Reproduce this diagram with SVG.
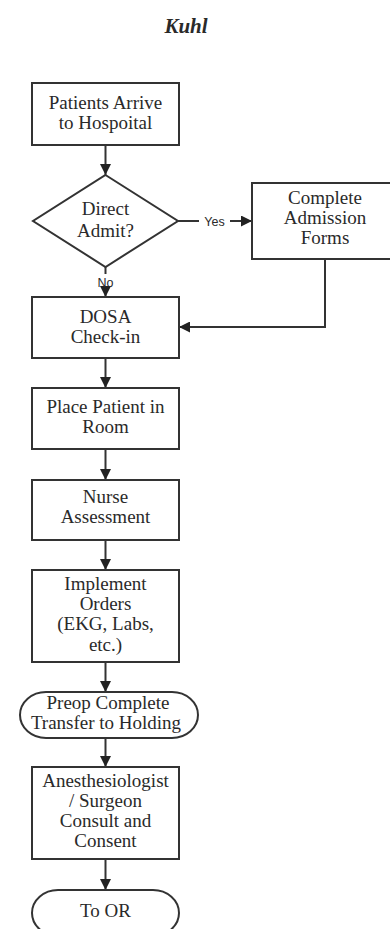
<svg xmlns="http://www.w3.org/2000/svg" width="390" height="929" viewBox="0 0 390 929">
<style>
.n{fill:#fff;stroke:#333;stroke-width:2}
.t{font-family:"Liberation Serif","Times New Roman",serif;font-size:19px;fill:#2a2a2a;text-anchor:middle}
.l{font-family:"Liberation Sans",Arial,sans-serif;font-size:12.5px;fill:#2a2a2a;text-anchor:middle}
.c{fill:none;stroke:#333;stroke-width:2}
</style>
<defs>
<marker id="ah" viewBox="0 0 10 10" refX="10" refY="5" markerWidth="5.5" markerHeight="5.5" orient="auto" markerUnits="strokeWidth">
<path d="M0,0 L10,5 L0,10 z" fill="#222"/>
</marker>
</defs>
<rect width="390" height="929" fill="#fff"/>
<text x="186" y="33" style="font-family:'Liberation Serif','Times New Roman',serif;font-size:21px;font-style:italic;font-weight:bold;fill:#2a2a2a" text-anchor="middle">Kuhl</text>
<g id="connectors">
<line class="c" x1="105.5" y1="145" x2="105.5" y2="175" marker-end="url(#ah)"/>
<line class="c" x1="105.5" y1="267" x2="105.5" y2="274"/>
<line class="c" x1="105.5" y1="290" x2="105.5" y2="297" marker-end="url(#ah)"/>
<line class="c" x1="178" y1="221" x2="199" y2="221"/>
<line class="c" x1="230" y1="221" x2="252" y2="221" marker-end="url(#ah)"/>
<polyline class="c" points="325,259 325,327 179,327" marker-end="url(#ah)"/>
<line class="c" x1="105.5" y1="358" x2="105.5" y2="388" marker-end="url(#ah)"/>
<line class="c" x1="105.5" y1="449" x2="105.5" y2="480" marker-end="url(#ah)"/>
<line class="c" x1="105.5" y1="540" x2="105.5" y2="570" marker-end="url(#ah)"/>
<line class="c" x1="105.5" y1="662" x2="105.5" y2="692" marker-end="url(#ah)"/>
<line class="c" x1="105.5" y1="738" x2="105.5" y2="767" marker-end="url(#ah)"/>
<line class="c" x1="105.5" y1="859" x2="105.5" y2="890" marker-end="url(#ah)"/>
<text class="l" x="214.5" y="225.5">Yes</text>
<text class="l" x="105.5" y="287">No</text>
</g>
<g id="arrive">
<rect class="n" x="32" y="83" width="147" height="62"/>
<text class="t" x="105.5" y="109">Patients Arrive</text>
<text class="t" x="105.5" y="129">to Hospoital</text>
</g>
<g id="direct">
<polygon class="n" points="105.5,175 178,221 105.5,267 33,221"/>
<text class="t" x="105.5" y="215">Direct</text>
<text class="t" x="105.5" y="237">Admit?</text>
</g>
<g id="forms">
<rect class="n" x="252" y="183" width="146" height="76"/>
<text class="t" x="325" y="204">Complete</text>
<text class="t" x="325" y="224">Admission</text>
<text class="t" x="325" y="244">Forms</text>
</g>
<g id="dosa">
<rect class="n" x="32" y="297" width="147" height="61"/>
<text class="t" x="105.5" y="323">DOSA</text>
<text class="t" x="105.5" y="343">Check-in</text>
</g>
<g id="room">
<rect class="n" x="32" y="388" width="147" height="61"/>
<text class="t" x="105.5" y="413">Place Patient in</text>
<text class="t" x="105.5" y="433">Room</text>
</g>
<g id="nurse">
<rect class="n" x="32" y="480" width="147" height="60"/>
<text class="t" x="105.5" y="503">Nurse</text>
<text class="t" x="105.5" y="523">Assessment</text>
</g>
<g id="orders">
<rect class="n" x="32" y="570" width="147" height="92"/>
<text class="t" x="105.5" y="590">Implement</text>
<text class="t" x="105.5" y="610">Orders</text>
<text class="t" x="105.5" y="630">(EKG, Labs,</text>
<text class="t" x="105.5" y="651">etc.)</text>
</g>
<g id="preop">
<rect class="n" x="20" y="692" width="178" height="46" rx="26" ry="23"/>
<text class="t" x="108" y="709">Preop Complete</text>
<text class="t" x="106" y="729">Transfer to Holding</text>
</g>
<g id="consult">
<rect class="n" x="32" y="767" width="147" height="92"/>
<text class="t" x="105.5" y="787">Anesthesiologist</text>
<text class="t" x="105.5" y="807">/ Surgeon</text>
<text class="t" x="105.5" y="827">Consult and</text>
<text class="t" x="105.5" y="847">Consent</text>
</g>
<g id="toor">
<rect class="n" x="32" y="890" width="147" height="46" rx="26" ry="23"/>
<text class="t" x="105.5" y="917">To OR</text>
</g>
</svg>
